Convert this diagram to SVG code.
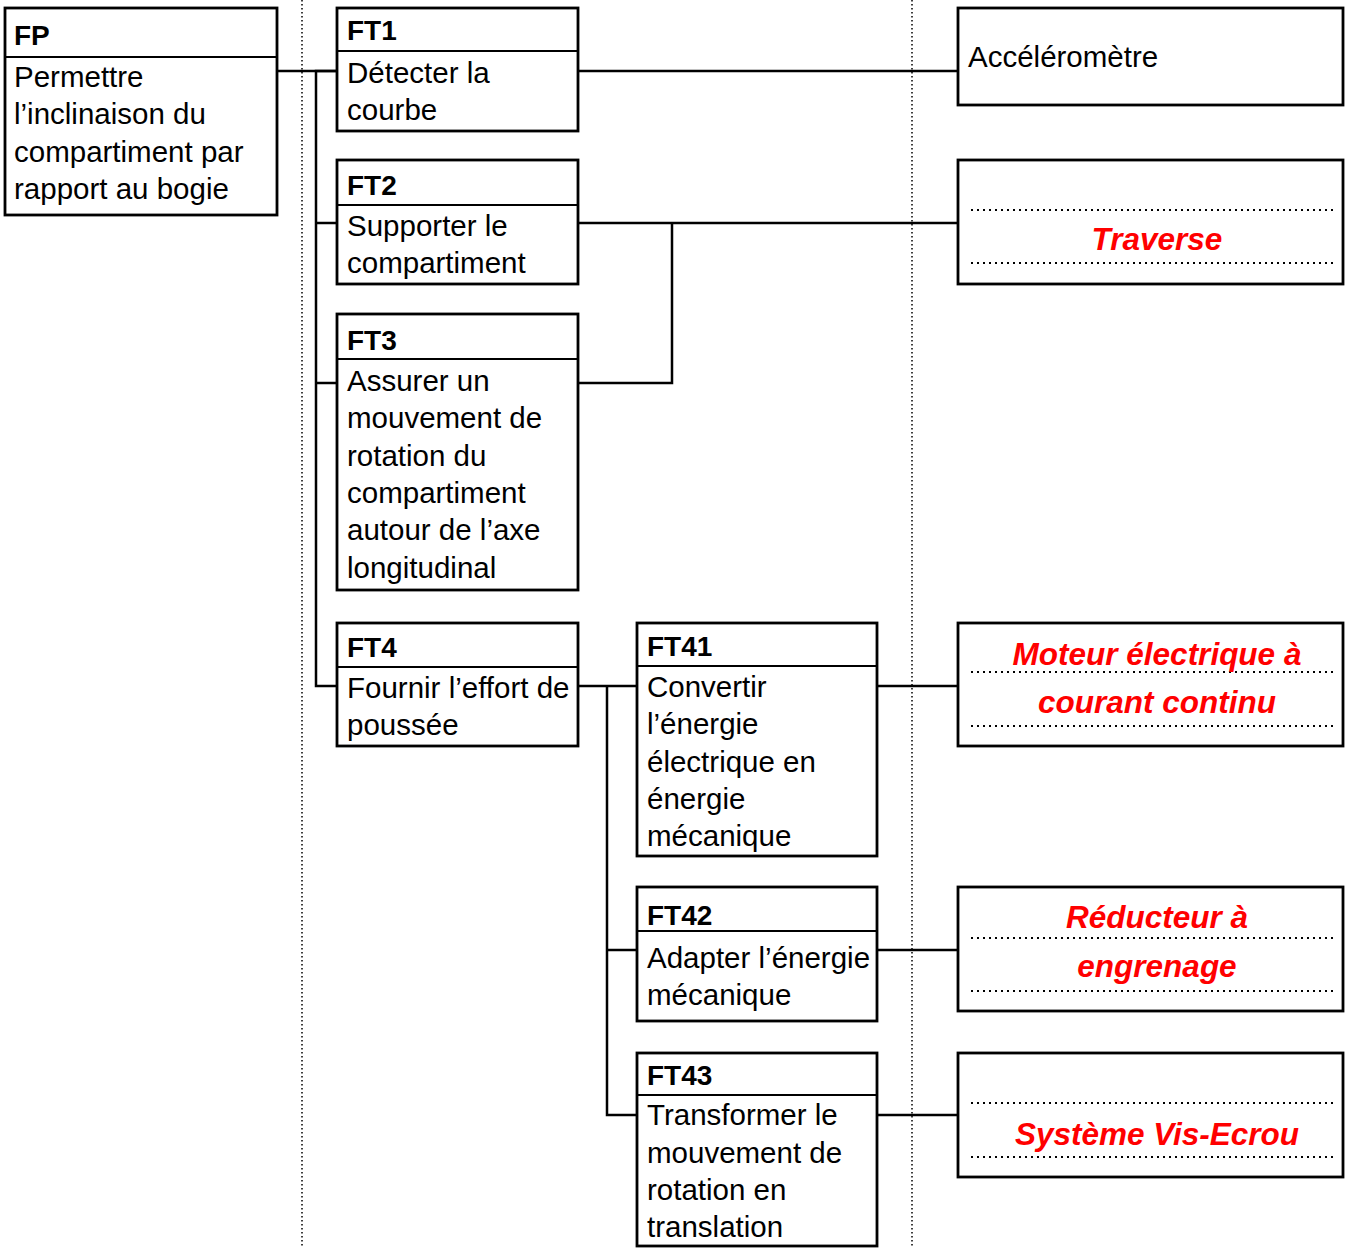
<svg xmlns="http://www.w3.org/2000/svg" width="1349" height="1248" viewBox="0 0 1349 1248">
<style>
.box{fill:#fff;stroke:#000;stroke-width:2.8}
.div{stroke:#000;stroke-width:2.2}
.ln{fill:none;stroke:#000;stroke-width:2.5}
.vd{stroke:#000;stroke-width:1.5;stroke-dasharray:1.5 2.5}
.dl{stroke:#000;stroke-width:2;stroke-dasharray:2 4}
.h{font-family:"Liberation Sans",Arial,sans-serif;font-weight:bold;font-size:28px;fill:#000}
.t{font-family:"Liberation Sans",Arial,sans-serif;font-size:29.5px;fill:#000}
.r{font-family:"Liberation Sans",Arial,sans-serif;font-weight:bold;font-style:italic;font-size:31.5px;fill:#f00;text-anchor:middle}
</style>
<rect width="1349" height="1248" fill="#fff"/>
<line class="vd" x1="302" y1="0" x2="302" y2="1248"/>
<line class="vd" x1="912" y1="0" x2="912" y2="1248"/>
<g id="connectors">
<line class="ln" x1="277" y1="71" x2="337" y2="71"/>
<polyline class="ln" points="337,71 316,71 316,686 337,686"/>
<line class="ln" x1="316" y1="223" x2="337" y2="223"/>
<line class="ln" x1="316" y1="383" x2="337" y2="383"/>
<line class="ln" x1="578" y1="71" x2="958" y2="71"/>
<line class="ln" x1="578" y1="223" x2="958" y2="223"/>
<polyline class="ln" points="578,383 672,383 672,223"/>
<line class="ln" x1="578" y1="686" x2="637" y2="686"/>
<polyline class="ln" points="607,686 607,1115 637,1115"/>
<line class="ln" x1="607" y1="950" x2="637" y2="950"/>
<line class="ln" x1="877" y1="686" x2="958" y2="686"/>
<line class="ln" x1="877" y1="950" x2="958" y2="950"/>
<line class="ln" x1="877" y1="1115" x2="958" y2="1115"/>
</g>
<g id="FP">
<rect class="box" x="5" y="8" width="272" height="207"/>
<line class="div" x1="5" y1="57" x2="277" y2="57"/>
<text class="h" x="14" y="45">FP</text>
<text class="t" x="14" y="87">Permettre</text>
<text class="t" x="14" y="124">l’inclinaison du</text>
<text class="t" x="14" y="162">compartiment par</text>
<text class="t" x="14" y="199">rapport au bogie</text>
</g>
<g id="FT1">
<rect class="box" x="337" y="8" width="241" height="123"/>
<line class="div" x1="337" y1="51" x2="578" y2="51"/>
<text class="h" x="347" y="40">FT1</text>
<text class="t" x="347" y="83">Détecter la</text>
<text class="t" x="347" y="120">courbe</text>
</g>
<g id="FT2">
<rect class="box" x="337" y="160" width="241" height="124"/>
<line class="div" x1="337" y1="205" x2="578" y2="205"/>
<text class="h" x="347" y="195">FT2</text>
<text class="t" x="347" y="236">Supporter le</text>
<text class="t" x="347" y="273">compartiment</text>
</g>
<g id="FT3">
<rect class="box" x="337" y="314" width="241" height="276"/>
<line class="div" x1="337" y1="359" x2="578" y2="359"/>
<text class="h" x="347" y="350">FT3</text>
<text class="t" x="347" y="391">Assurer un</text>
<text class="t" x="347" y="428">mouvement de</text>
<text class="t" x="347" y="466">rotation du</text>
<text class="t" x="347" y="503">compartiment</text>
<text class="t" x="347" y="540">autour de l’axe</text>
<text class="t" x="347" y="578">longitudinal</text>
</g>
<g id="FT4">
<rect class="box" x="337" y="623" width="241" height="123"/>
<line class="div" x1="337" y1="667" x2="578" y2="667"/>
<text class="h" x="347" y="657">FT4</text>
<text class="t" x="347" y="698">Fournir l’effort de</text>
<text class="t" x="347" y="735">poussée</text>
</g>
<g id="FT41">
<rect class="box" x="637" y="623" width="240" height="233"/>
<line class="div" x1="637" y1="666" x2="877" y2="666"/>
<text class="h" x="647" y="656">FT41</text>
<text class="t" x="647" y="697">Convertir</text>
<text class="t" x="647" y="734">l’énergie</text>
<text class="t" x="647" y="772">électrique en</text>
<text class="t" x="647" y="809">énergie</text>
<text class="t" x="647" y="846">mécanique</text>
</g>
<g id="FT42">
<rect class="box" x="637" y="887" width="240" height="134"/>
<line class="div" x1="637" y1="931" x2="877" y2="931"/>
<text class="h" x="647" y="925">FT42</text>
<text class="t" x="647" y="968">Adapter l’énergie</text>
<text class="t" x="647" y="1005">mécanique</text>
</g>
<g id="FT43">
<rect class="box" x="637" y="1053" width="240" height="193"/>
<line class="div" x1="637" y1="1095" x2="877" y2="1095"/>
<text class="h" x="647" y="1085">FT43</text>
<text class="t" x="647" y="1125">Transformer le</text>
<text class="t" x="647" y="1163">mouvement de</text>
<text class="t" x="647" y="1200">rotation en</text>
<text class="t" x="647" y="1237">translation</text>
</g>
<g id="S1">
<rect class="box" x="958" y="8" width="385" height="97"/>
<text class="t" x="968" y="67">Accéléromètre</text>
</g>
<g id="S2">
<rect class="box" x="958" y="160" width="385" height="124"/>
<line class="dl" x1="971" y1="210" x2="1333" y2="210"/>
<line class="dl" x1="971" y1="263" x2="1333" y2="263"/>
<text class="r" x="1157" y="250">Traverse</text>
</g>
<g id="S41">
<rect class="box" x="958" y="623" width="385" height="123"/>
<line class="dl" x1="971" y1="672" x2="1333" y2="672"/>
<line class="dl" x1="971" y1="726" x2="1333" y2="726"/>
<text class="r" x="1157" y="665">Moteur électrique à</text>
<text class="r" x="1157" y="713">courant continu</text>
</g>
<g id="S42">
<rect class="box" x="958" y="887" width="385" height="124"/>
<line class="dl" x1="971" y1="938" x2="1333" y2="938"/>
<line class="dl" x1="971" y1="991" x2="1333" y2="991"/>
<text class="r" x="1157" y="928">Réducteur à</text>
<text class="r" x="1157" y="977">engrenage</text>
</g>
<g id="S43">
<rect class="box" x="958" y="1053" width="385" height="124"/>
<line class="dl" x1="971" y1="1103" x2="1333" y2="1103"/>
<line class="dl" x1="971" y1="1157" x2="1333" y2="1157"/>
<text class="r" x="1157" y="1145">Système Vis-Ecrou</text>
</g>
</svg>
